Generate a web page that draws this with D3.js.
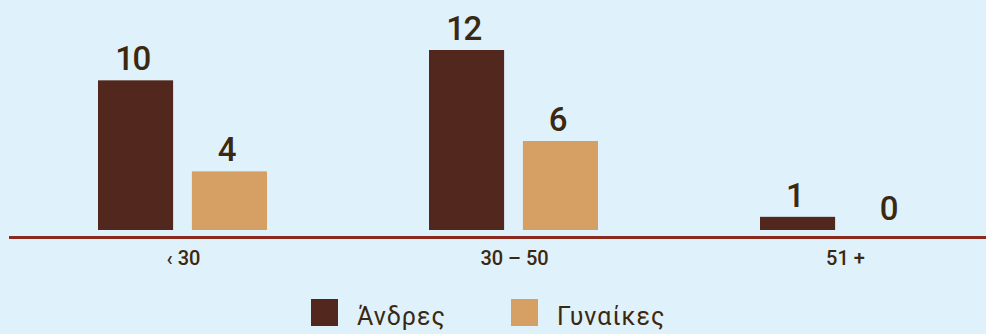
<!DOCTYPE html>
<html><head><meta charset="utf-8">
<script src="https://cdn.jsdelivr.net/npm/d3@7"></script>
<style>
html,body{margin:0;padding:0;background:#dff1fb;}
svg{display:block;}
text{font-family:Roboto,"Noto Sans",sans-serif;fill:#3b2810;}
</style></head>
<body>
<svg id="chart" width="986" height="334"></svg>
<script>
const categories = ["‹ 30", "30 – 50", "51 +"];
const seriesNames = ["Άνδρες", "Γυναίκες"];
const men = [10, 12, 1];
const women = [4, 6, 0];
const colors = ["#52271d", "#d6a064"];

const W = 986, H = 334;
const svg = d3.select("#chart");
const values = [men, women];

const x0 = d3.scaleBand().domain(categories).range([17, 1010]).paddingInner(0);
const x1 = d3.scaleBand().domain(seriesNames).range([81, 250]).paddingInner(0.2);
const y = d3.scaleLinear().domain([0, 12]).range([232, 50]);
const barBottom = 230;

const g = svg.append("g");
categories.forEach((c, i) => {
  seriesNames.forEach((s, j) => {
    const v = values[j][i];
    const top = y(v);
    const h = Math.max(0, barBottom - top);
    const bx = x0(c) + x1(s);
    g.append("rect").attr("x", bx).attr("y", barBottom - h)
      .attr("width", x1.bandwidth()).attr("height", h).attr("fill", colors[j]);
    g.append("text").attr("x", bx + x1.bandwidth() / 2 - 3).attr("y", Math.min(top, barBottom) - 10)
      .attr("text-anchor", "middle").attr("font-size", 33).attr("font-weight", 500)
      .attr("letter-spacing", -1.5)
      .text(v);
  });
});

// axis line
svg.append("line").attr("x1", 9).attr("x2", W).attr("y1", 237.5).attr("y2", 237.5)
  .attr("stroke", "#8a2a1c").attr("stroke-width", 3);

// category labels via axis
const axis = d3.axisBottom(x0).tickSize(0).tickPadding(0);
const ag = svg.append("g").attr("transform", "translate(0,251)").call(axis);
ag.select(".domain").remove();
ag.selectAll("text").attr("font-size", 20).attr("font-weight", 500).attr("dy", "0.71em").attr("dx", 1)
  .style("font-family", "Roboto, sans-serif").style("fill", "#3b2810");

// legend
const legendX = [311, 511];
seriesNames.forEach((s, j) => {
  const lg = svg.append("g").attr("transform", `translate(${legendX[j]},299)`);
  lg.append("rect").attr("width", 27).attr("height", 27).attr("fill", colors[j]);
  lg.append("text").attr("x", 46).attr("y", 26).attr("font-size", 25).attr("font-weight", 400)
    .attr("letter-spacing", 1).text(s);
});
</script>
</body></html>
